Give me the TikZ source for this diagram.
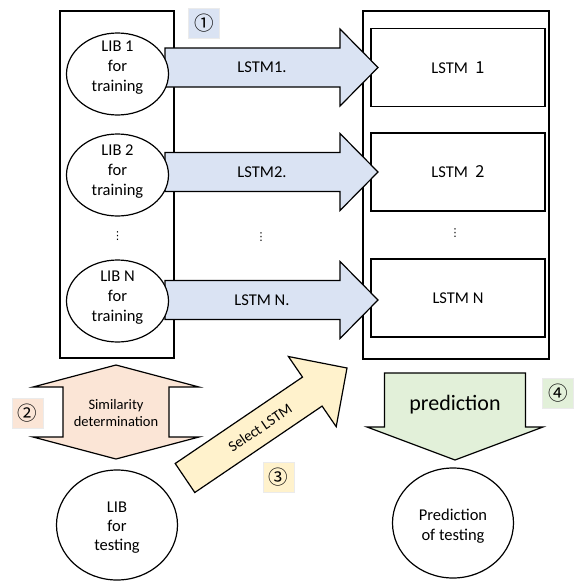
\documentclass[tikz,border=0pt]{standalone}
\usepackage{fontspec}
\setmainfont{Carlito}
\newfontfamily\jpfont{Noto Sans CJK JP}
\newfontfamily\dvfont{DejaVu Sans}
\usetikzlibrary{shapes.geometric}
\definecolor{cblue}{HTML}{DAE3F3}
\definecolor{cpink}{HTML}{FBE5D6}
\definecolor{cyel}{HTML}{FFF2CC}
\definecolor{cgreen}{HTML}{E2F0D9}
\begin{document}
\begin{tikzpicture}[x=1pt,y=-1pt,
  outl/.style={draw=black, line width=1.2pt, line join=miter},
  libc/.style={ellipse, draw=black, line width=1.2pt, fill=white, inner sep=0pt, minimum width=102pt, minimum height=82pt},
  tcirc/.style={ellipse, draw=black, line width=1.2pt, fill=white, inner sep=0pt, minimum width=121pt, minimum height=110pt},
  txt/.style={align=center, inner sep=0pt, font=\fontsize{16.5}{20}\selectfont},
  smalltxt/.style={align=center, inner sep=0pt, font=\fontsize{14.5}{17}\selectfont},
  bigtxt/.style={inner sep=0pt, font=\fontsize{22}{26}\selectfont},
  numbox/.style={minimum width=31pt, minimum height=30pt, inner sep=0pt, draw=black!8, line width=0.4pt, font=\jpfont\fontsize{19.5}{20}\selectfont},
  lstmbox/.style={draw=black, line width=1.2pt, minimum width=174pt, minimum height=78pt, inner sep=0pt, font=\fontsize{16.5}{20}\selectfont},
  dotsn/.style={inner sep=0pt, font=\dvfont\fontsize{11}{11}\selectfont}]
\useasboundingbox (0,0) rectangle (577,581);
% containers
\node[draw=black, line width=1.2pt, minimum width=114pt, minimum height=347pt, inner sep=0pt] (leftbox) at (117,184.5) {};
\node[draw=black, line width=1.3pt, minimum width=186pt, minimum height=348pt, inner sep=0pt] (rightbox) at (456,185) {};
\node[lstmbox] (lstm1) at (458,67.5) {LSTM\ \ {\jpfont 1}};
\node[lstmbox] (lstm2) at (458,172) {LSTM\ \ {\jpfont 2}};
\node[lstmbox] (lstmn) at (458,298) {LSTM N};
% blue block arrows
\draw[outl, fill=cblue] (165,48) -- (340,48) -- (340,29) -- (378,67.5) -- (340,106) -- (340,87) -- (165,87) -- cycle;
\draw[outl, fill=cblue] (165,152.5) -- (340,152.5) -- (340,133.5) -- (378,172) -- (340,210.5) -- (340,191.5) -- (165,191.5) -- cycle;
\draw[outl, fill=cblue] (165,280.5) -- (340,280.5) -- (340,261.5) -- (378,300) -- (340,338.5) -- (340,319.5) -- (165,319.5) -- cycle;
\node[txt] (a1) at (262,67.5) {LSTM1.};
\node[txt] (a2) at (262,172) {LSTM2.};
\node[txt] (an) at (262,300) {LSTM N.};
% training libraries
\node[libc] (lib1) at (117.5,74) {};
\node[txt] (lib1t) at (117.5,68) {LIB 1\\for\\training};
\node[libc] (lib2) at (117.5,175) {};
\node[txt] (lib2t) at (117.5,171.5) {LIB 2\\for\\training};
\node[libc] (libn) at (117.5,301) {};
\node[txt] (libnt) at (117.5,297.5) {LIB N\\for\\training};
% vertical dots
\node[dotsn] (d1) at (117.5,236) {⋮};
\node[dotsn] (d2) at (261,237) {⋮};
\node[dotsn] (d3) at (455,233) {⋮};
% step numbers
\node[numbox, fill=cblue] (n1) at (204,23) {①};
\node[numbox, fill=cpink] (n2) at (27.5,413.5) {②};
\node[numbox, fill=cyel] (n3) at (278.5,477.5) {③};
\node[numbox, fill=cgreen] (n4) at (558,393) {④};
% similarity double arrow
\draw[outl, fill=cpink] (116,365) -- (199,387) -- (169,387) -- (169,437) -- (199,437) -- (116,459) -- (33,437) -- (63,437) -- (63,387) -- (33,387) -- cycle;
\node[smalltxt] (sim) at (116,413) {Similarity\\determination};
% select arrow
\draw[outl, fill=cyel] (175.2,463.5) -- (302.5,377.1) -- (288.4,356.5) -- (347,368) -- (336.2,426.7) -- (322.1,406.1) -- (194.8,492.5) -- cycle;
\node[txt, rotate=34.2, font=\fontsize{15}{18}\selectfont] (sel) at (260,428) {Select LSTM};
% prediction arrow
\draw[outl, fill=cgreen] (384.5,373) -- (525.5,373) -- (525.5,427) -- (543,427) -- (455,460) -- (367,427) -- (384.5,427) -- cycle;
\node[bigtxt] (pred) at (455,405) {prediction};
% testing
\node[tcirc] (libtest) at (117,525) {};
\node[txt, font=\fontsize{16.5}{19}\selectfont] (libtestt) at (117,528) {LIB\\for\\testing};
\node[tcirc] (predtest) at (453,523) {};
\node[txt] (predtestt) at (453,526) {Prediction\\of testing};
\end{tikzpicture}
\end{document}
